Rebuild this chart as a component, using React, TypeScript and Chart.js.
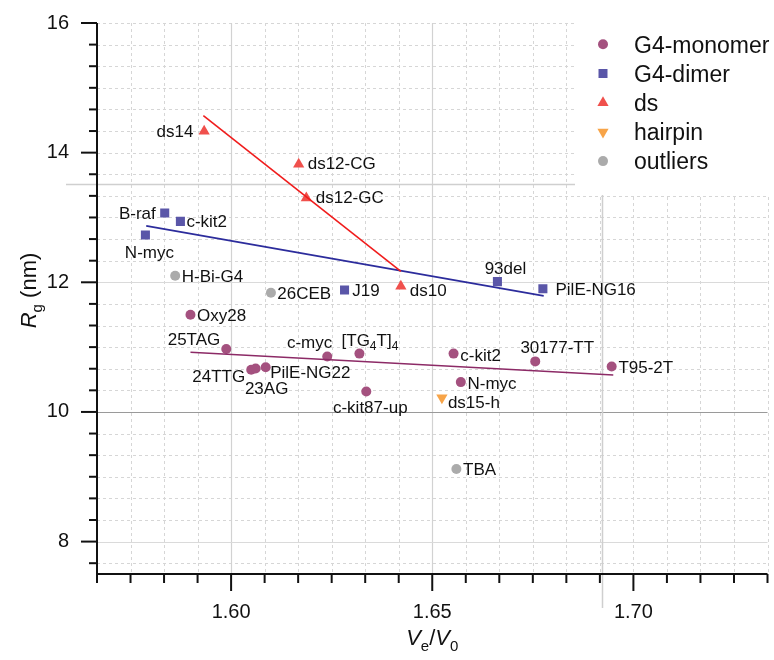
import React, { useEffect, useRef } from 'react';
import { Chart, registerables } from 'chart.js';

Chart.register(...registerables);

const FONT = '"Liberation Sans", Arial, Helvetica, sans-serif';

// ---- data ----
// G4 monomers
const monomerNames = ['Oxy28', '25TAG', '24TTG', '23AG', 'PilE-NG22', 'c-myc', '[TG_4T]_4', 'c-kit87-up', 'c-kit2', 'N-myc', '30177-TT', 'T95-2T'];
const monomerX = [1.5899, 1.5988, 1.605, 1.6061, 1.6086, 1.6239, 1.6319, 1.6336, 1.6553, 1.6571, 1.6756, 1.6946];
const monomerY = [11.5, 10.97, 10.65, 10.67, 10.69, 10.855, 10.9, 10.315, 10.9, 10.46, 10.78, 10.7];

// G4 dimers
const dimerNames = ['B-raf', 'c-kit2', 'N-myc', 'J19', '93del', 'PilE-NG16'];
const dimerX = [1.5835, 1.5874, 1.5787, 1.6282, 1.6662, 1.6775];
const dimerY = [13.07, 12.94, 12.73, 11.88, 12.01, 11.9];

// double strands
const dsNames = ['ds14', 'ds12-CG', 'ds12-GC', 'ds10'];
const dsX = [1.5933, 1.6168, 1.6187, 1.6422];
const dsY = [14.33, 13.82, 13.3, 11.94];

// hairpin
const hairpinNames = ['ds15-h'];
const hairpinX = [1.6524];
const hairpinY = [10.22];

// outliers
const outlierNames = ['H-Bi-G4', '26CEB', 'TBA'];
const outlierX = [1.5861, 1.6099, 1.656];
const outlierY = [12.1, 11.84, 9.12];

// linear fits (end points)
const fitMonomerX = [1.5899, 1.695];
const fitMonomerY = [10.92, 10.57];
const fitDimerX = [1.5789, 1.6777];
const fitDimerY = [12.87, 11.79];
const fitDsX = [1.5931, 1.6422];
const fitDsY = [14.57, 12.17];

// axes
const xMajorTicks = [1.6, 1.65, 1.7];
const yMajorTicks = [8, 10, 12, 14, 16];
const X_MIN = 1.6 - 4 / 120;
const X_MAX = 1.7 + 4 / 120;
const Y_MIN = 7.5;
const Y_MAX = 16;
const X_MINOR_PER_UNIT = 120;
const Y_MINOR_PER_UNIT = 3;

// ---- styles ----
const COLORS = {
  monomer: '#a4517f',
  dimer: '#5a56a8',
  ds: '#f0504c',
  hairpin: '#f7a448',
  outlier: '#ababab',
  fitMonomer: '#8c2a66',
  fitDimer: '#2c2c9c',
  fitDs: '#f01c1c',
};

type Align = 'left' | 'center' | 'right';
// [dx, dy, align] relative to the marker centre
const labelPlacement: Record<string, Record<string, [number, number, Align]>> = {
  monomer: {
    'Oxy28': [6.6, 0, 'left'],
    '25TAG': [-6, -10, 'right'],
    '24TTG': [-6, 6, 'right'],
    '23AG': [11, 19, 'center'],
    'PilE-NG22': [4.5, 4.5, 'left'],
    'c-myc': [5, -15, 'right'],
    '[TG_4T]_4': [10.5, -14, 'center'],
    'c-kit87-up': [4, 15, 'center'],
    'c-kit2': [6.7, 1, 'left'],
    'N-myc': [6.7, 1, 'left'],
    '30177-TT': [22, -14.5, 'center'],
    'T95-2T': [6.7, 0.6, 'left'],
  },
  dimer: {
    'B-raf': [-9, 0, 'right'],
    'c-kit2': [6, 0, 'left'],
    'N-myc': [4, 17, 'center'],
    'J19': [7.7, 0, 'left'],
    '93del': [8, -13.5, 'center'],
    'PilE-NG16': [12.6, 0, 'left'],
  },
  ds: {
    'ds14': [-10.7, 0, 'right'],
    'ds12-CG': [9, -1.5, 'left'],
    'ds12-GC': [9.4, -1.5, 'left'],
    'ds10': [9, 4, 'left'],
  },
  hairpin: {
    'ds15-h': [6, 4, 'left'],
  },
  outlier: {
    'H-Bi-G4': [6.6, 0, 'left'],
    '26CEB': [6.3, 0, 'left'],
    'TBA': [6.7, 0, 'left'],
  },
};

type Seg = { t: string; sub?: boolean; italic?: boolean };

// "_x" marks a single subscript character
function parseMarkup(s: string): Seg[] {
  const segs: Seg[] = [];
  let buf = '';
  for (let i = 0; i < s.length; i++) {
    if (s[i] === '_' && i + 1 < s.length) {
      if (buf) segs.push({ t: buf });
      buf = '';
      segs.push({ t: s[i + 1], sub: true });
      i++;
    } else {
      buf += s[i];
    }
  }
  if (buf) segs.push({ t: buf });
  return segs;
}

function drawRich(ctx: CanvasRenderingContext2D, segs: Seg[], x: number, yMid: number, size: number, align: Align, color = '#111') {
  const subSize = Math.round(size * 0.68);
  const fontFor = (s: Seg) => `${s.italic ? 'italic ' : ''}${s.sub ? subSize : size}px ${FONT}`;
  const widths = segs.map((s) => {
    ctx.font = fontFor(s);
    return ctx.measureText(s.t).width;
  });
  const total = widths.reduce((a, b) => a + b, 0);
  let cx = align === 'left' ? x : align === 'center' ? x - total / 2 : x - total;
  const base = yMid + size * 0.36;
  ctx.fillStyle = color;
  ctx.textAlign = 'left';
  ctx.textBaseline = 'alphabetic';
  segs.forEach((s, i) => {
    ctx.font = fontFor(s);
    ctx.fillText(s.t, cx, s.sub ? base + size * 0.28 : base);
    cx += widths[i];
  });
}

function drawMarker(ctx: CanvasRenderingContext2D, kind: string, x: number, y: number, color: string) {
  ctx.fillStyle = color;
  ctx.beginPath();
  if (kind === 'circle') {
    ctx.arc(x, y, 5, 0, Math.PI * 2);
  } else if (kind === 'rect') {
    ctx.rect(x - 4.5, y - 4.5, 9, 9);
  } else if (kind === 'up') {
    ctx.moveTo(x, y - 6.5);
    ctx.lineTo(x + 5.6, y + 3.25);
    ctx.lineTo(x - 5.6, y + 3.25);
    ctx.closePath();
  } else {
    ctx.moveTo(x, y + 6.5);
    ctx.lineTo(x + 5.6, y - 3.25);
    ctx.lineTo(x - 5.6, y - 3.25);
    ctx.closePath();
  }
  ctx.fill();
}

const legendItems = [
  { label: 'G4-monomer', kind: 'circle', color: COLORS.monomer },
  { label: 'G4-dimer', kind: 'rect', color: COLORS.dimer },
  { label: 'ds', kind: 'up', color: COLORS.ds },
  { label: 'hairpin', kind: 'down', color: COLORS.hairpin },
  { label: 'outliers', kind: 'circle', color: COLORS.outlier },
];

const decorPlugin = {
  id: 'decor',
  beforeDraw(chart: any) {
    const { ctx, chartArea: a, scales } = chart;
    const xs = scales.x;
    const ys = scales.y;
    ctx.save();
    // minor dashed grid
    ctx.lineWidth = 1;
    ctx.strokeStyle = '#d6d6d6';
    ctx.setLineDash([3, 3]);
    const solidX = [1.6, 1.65];
    const solidY = [8, 10, 12];
    for (let k = Math.ceil(X_MIN * X_MINOR_PER_UNIT - 1e-6); k <= Math.floor(X_MAX * X_MINOR_PER_UNIT + 1e-6); k++) {
      const v = k / X_MINOR_PER_UNIT;
      if (solidX.some((s) => Math.abs(s - v) < 1e-6)) continue;
      const px = Math.round(xs.getPixelForValue(v)) + 0.5;
      ctx.beginPath();
      ctx.moveTo(px, a.top);
      ctx.lineTo(px, a.bottom);
      ctx.stroke();
    }
    for (let k = Math.ceil(Y_MIN * Y_MINOR_PER_UNIT - 1e-6); k <= Math.floor(Y_MAX * Y_MINOR_PER_UNIT + 1e-6); k++) {
      const v = k / Y_MINOR_PER_UNIT;
      if (solidY.some((s) => Math.abs(s - v) < 1e-6)) continue;
      const py = Math.round(ys.getPixelForValue(v)) + 0.5;
      ctx.beginPath();
      ctx.moveTo(a.left, py);
      ctx.lineTo(a.right, py);
      ctx.stroke();
    }
    ctx.setLineDash([]);
    // solid major grid
    ctx.lineWidth = 1.2;
    solidX.forEach((v) => {
      const px = Math.round(xs.getPixelForValue(v)) + 0.5;
      ctx.strokeStyle = '#d2d2d2';
      ctx.beginPath();
      ctx.moveTo(px, a.top);
      ctx.lineTo(px, a.bottom);
      ctx.stroke();
    });
    solidY.forEach((v) => {
      const py = Math.round(ys.getPixelForValue(v)) + 0.5;
      ctx.strokeStyle = v === 10 ? '#9a9a9a' : '#dadada';
      ctx.beginPath();
      ctx.moveTo(a.left, py);
      ctx.lineTo(a.right, py);
      ctx.stroke();
    });
    // stray reference lines
    ctx.strokeStyle = '#cfcfcf';
    ctx.lineWidth = 1.5;
    const hy = Math.round(ys.getPixelForValue(13.52)) + 0.5;
    ctx.beginPath();
    ctx.moveTo(a.left - 31, hy);
    ctx.lineTo(a.right, hy);
    ctx.stroke();
    const vx = Math.round(xs.getPixelForValue(1.6922)) + 0.5;
    ctx.beginPath();
    ctx.moveTo(vx, a.top);
    ctx.lineTo(vx, a.bottom + 34);
    ctx.stroke();
    // legend background
    ctx.fillStyle = '#ffffff';
    ctx.fillRect(575, 0, chart.width - 575, 195);
    ctx.restore();
  },
  afterDatasetsDraw(chart: any) {
    const { ctx } = chart;
    ctx.save();
    chart.data.datasets.forEach((ds: any, di: number) => {
      if (!ds.group) return;
      const meta = chart.getDatasetMeta(di);
      const place = labelPlacement[ds.group];
      ds.names.forEach((name: string, i: number) => {
        const el = meta.data[i];
        const p = place[name] || [6, 0, 'left'];
        drawRich(ctx, parseMarkup(name), el.x + p[0], el.y + p[1], 17, p[2]);
      });
    });
    ctx.restore();
  },
  afterDraw(chart: any) {
    const { ctx, chartArea: a, scales } = chart;
    const xs = scales.x;
    const ys = scales.y;
    ctx.save();
    ctx.strokeStyle = '#111';
    ctx.lineWidth = 2;
    // axis lines
    ctx.beginPath();
    ctx.moveTo(a.left, a.top);
    ctx.lineTo(a.left, a.bottom);
    ctx.lineTo(a.right, a.bottom);
    ctx.stroke();
    // x ticks
    for (let k = Math.ceil(X_MIN * X_MINOR_PER_UNIT - 1e-6); k <= Math.floor(X_MAX * X_MINOR_PER_UNIT + 1e-6); k++) {
      const v = k / X_MINOR_PER_UNIT;
      const major = xMajorTicks.some((s) => Math.abs(s - v) < 1e-6);
      const px = xs.getPixelForValue(v);
      ctx.beginPath();
      ctx.moveTo(px, a.bottom);
      ctx.lineTo(px, a.bottom + (major ? 17 : 9));
      ctx.stroke();
    }
    // y ticks
    for (let k = Math.ceil(Y_MIN * Y_MINOR_PER_UNIT - 1e-6); k <= Math.floor(Y_MAX * Y_MINOR_PER_UNIT + 1e-6); k++) {
      const v = k / Y_MINOR_PER_UNIT;
      const major = yMajorTicks.some((s) => Math.abs(s - v) < 1e-6);
      const py = ys.getPixelForValue(v);
      ctx.beginPath();
      ctx.moveTo(a.left, py);
      ctx.lineTo(a.left - (major ? 16 : 8), py);
      ctx.stroke();
    }
    // axis titles
    drawRich(ctx, [{ t: 'V', italic: true }, { t: 'e', sub: true }, { t: '/' }, { t: 'V', italic: true }, { t: '0', sub: true }], (a.left + a.right) / 2, 637, 22, 'center');
    ctx.translate(28, (a.top + a.bottom) / 2 - 8);
    ctx.rotate(-Math.PI / 2);
    drawRich(ctx, [{ t: 'R', italic: true }, { t: 'g', sub: true }, { t: ' (nm)' }], 0, 0, 22, 'center');
    ctx.setTransform(1, 0, 0, 1, 0, 0);
    // legend
    legendItems.forEach((it, i) => {
      const y = 44.3 + i * 29.2;
      drawMarker(ctx, it.kind, 603, y, it.color);
      drawRich(ctx, [{ t: it.label }], 634, y, 23, 'left');
    });
    ctx.restore();
  },
};

function points(xs: number[], ys: number[]) {
  return xs.map((x, i) => ({ x, y: ys[i] }));
}

export default function App() {
  const ref = useRef<HTMLCanvasElement>(null);
  useEffect(() => {
    document.body.style.margin = '0';
    const canvas = ref.current;
    if (!canvas) return;
    const lineSet = (xs: number[], ys: number[], color: string) => ({
      data: points(xs, ys),
      showLine: true,
      borderColor: color,
      borderWidth: 1.6,
      pointRadius: 0,
      fill: false,
    });
    const pointSet = (group: string, names: string[], xs: number[], ys: number[], color: string, style: string, radius: number, rotation = 0) => ({
      group,
      names,
      data: points(xs, ys),
      backgroundColor: color,
      borderWidth: 0,
      pointStyle: style,
      pointRadius: radius,
      rotation,
    });
    const noPad = (s: any) => {
      s.paddingTop = 0;
      s.paddingBottom = 0;
      s.paddingLeft = 0;
      s.paddingRight = 0;
    };
    const chart = new Chart(canvas, {
      type: 'scatter',
      data: {
        datasets: [
          lineSet(fitDsX, fitDsY, COLORS.fitDs),
          lineSet(fitDimerX, fitDimerY, COLORS.fitDimer),
          lineSet(fitMonomerX, fitMonomerY, COLORS.fitMonomer),
          pointSet('ds', dsNames, dsX, dsY, COLORS.ds, 'triangle', 6.5),
          pointSet('hairpin', hairpinNames, hairpinX, hairpinY, COLORS.hairpin, 'triangle', 6.5, 180),
          pointSet('dimer', dimerNames, dimerX, dimerY, COLORS.dimer, 'rect', 6.4),
          pointSet('monomer', monomerNames, monomerX, monomerY, COLORS.monomer, 'circle', 5),
          pointSet('outlier', outlierNames, outlierX, outlierY, COLORS.outlier, 'circle', 5),
        ] as any,
      },
      options: {
        responsive: false,
        animation: false,
        devicePixelRatio: 1,
        events: [],
        layout: { padding: { top: 23, right: 2, left: 0, bottom: 0 } },
        plugins: { legend: { display: false }, tooltip: { enabled: false } },
        scales: {
          x: {
            type: 'linear',
            min: X_MIN,
            max: X_MAX,
            grid: { display: false },
            border: { display: false },
            ticks: {
              padding: 18,
              color: '#111',
              font: { family: FONT, size: 20 },
              callback: (v: any) => Number(v).toFixed(2),
            },
            afterBuildTicks: (s: any) => {
              s.ticks = xMajorTicks.map((value) => ({ value }));
            },
            afterFit: (s: any) => {
              s.height = 86;
              noPad(s);
            },
          },
          y: {
            type: 'linear',
            min: Y_MIN,
            max: Y_MAX,
            grid: { display: false },
            border: { display: false },
            ticks: {
              padding: 20,
              color: '#111',
              font: { family: FONT, size: 20 },
              callback: (v: any) => String(Math.round(Number(v))),
            },
            afterBuildTicks: (s: any) => {
              s.ticks = yMajorTicks.map((value) => ({ value }));
            },
            afterFit: (s: any) => {
              s.width = 97;
              noPad(s);
            },
          },
        },
      } as any,
      plugins: [decorPlugin],
    });
    return () => chart.destroy();
  }, []);
  return (
    <div style={{ width: 774, height: 660 }}>
      <canvas ref={ref} width={774} height={660} style={{ display: 'block', width: 774, height: 660 }} />
    </div>
  );
}
